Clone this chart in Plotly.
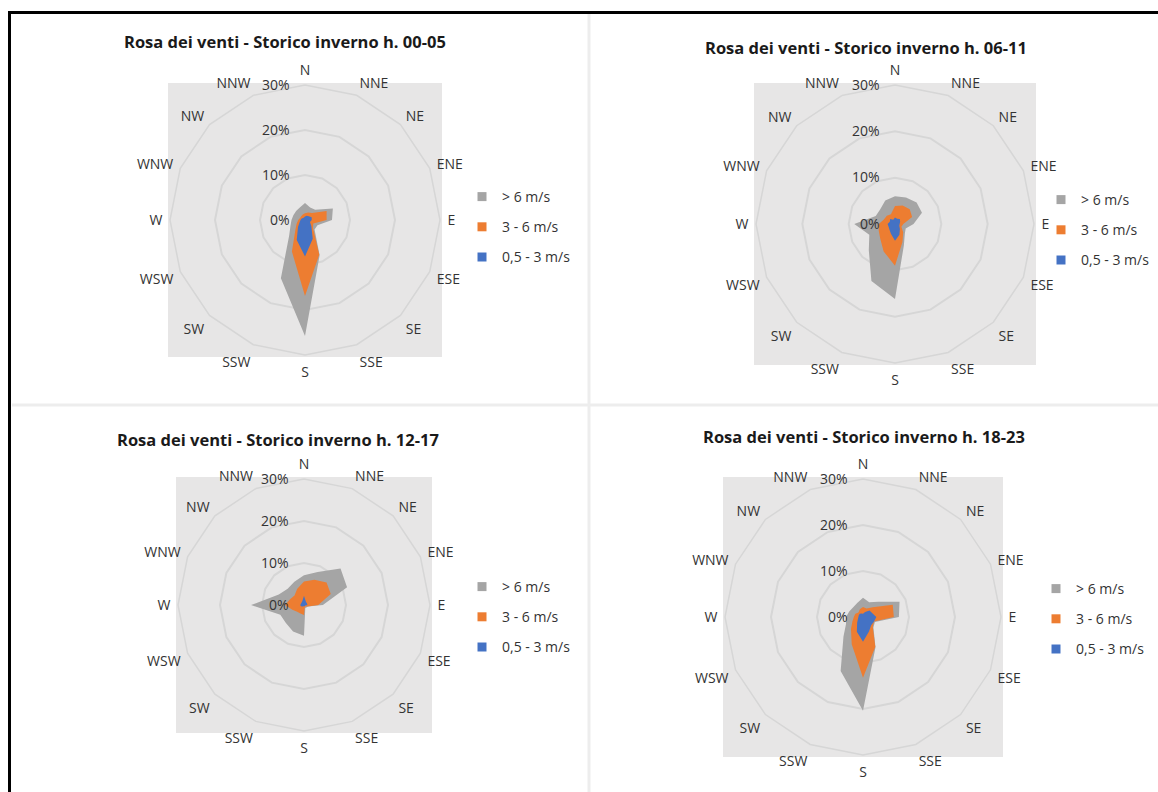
import plotly.graph_objects as go

W, H = 1158, 792

# Wind directions (16-point compass), clockwise from north
DIRS = ["N", "NNE", "NE", "ENE", "E", "ESE", "SE", "SSE",
        "S", "SSW", "SW", "WSW", "W", "WNW", "NW", "NNW"]

SERIES = ["> 6 m/s", "3 - 6 m/s", "0,5 - 3 m/s"]
COLORS = ["#A5A5A5", "#ED7D31", "#4472C4"]

TITLES = [
    "Rosa dei venti - Storico inverno h. 00-05",
    "Rosa dei venti - Storico inverno h. 06-11",
    "Rosa dei venti - Storico inverno h. 12-17",
    "Rosa dei venti - Storico inverno h. 18-23",
]

RADIAL_TICKS = [0, 10, 20, 30]
RADIAL_LABELS = ["0%", "10%", "20%", "30%"]

# Frequencies (%) per direction, h. 00-05
H0005_GT6 = [3.8, 3.0, 3.2, 6.7, 6.0, 3.0, 3.0, 8.5, 25.8, 14.0, 5.0, 3.5, 3.0, 2.8, 2.8, 3.0]
H0005_3_6 = [1.5, 1.8, 2.2, 5.2, 4.8, 2.0, 2.5, 8.3, 16.9, 7.6, 3.0, 2.0, 1.5, 1.2, 1.2, 1.3]
H0005_05_3 = [0.8, 1.0, 1.2, 1.6, 1.5, 1.2, 2.0, 4.5, 8.1, 4.8, 2.2, 1.3, 1.0, 0.8, 0.6, 0.6]

# h. 06-11
H0611_GT6 = [6.0, 6.2, 6.6, 6.3, 4.0, 2.5, 3.0, 5.0, 16.2, 13.3, 8.0, 6.0, 8.8, 4.5, 4.5, 5.5]
H0611_3_6 = [3.9, 4.3, 4.5, 4.0, 1.8, 1.5, 2.5, 4.2, 9.0, 6.4, 4.5, 3.8, 3.5, 2.6, 2.5, 2.3]
H0611_05_3 = [1.4, 1.2, 1.5, 1.2, 1.0, 1.0, 1.5, 2.5, 3.6, 2.3, 1.7, 1.5, 1.6, 1.2, 1.5, 1.0]

# h. 12-17
H1217_GT6 = [7.1, 8.5, 12.3, 11.1, 4.5, 1.0, 0.8, 0.8, 7.3, 6.8, 6.1, 6.1, 12.6, 6.5, 5.5, 6.0]
H1217_3_6 = [5.6, 6.5, 7.6, 6.9, 3.4, 1.0, 0.5, 0.5, 2.4, 2.2, 2.3, 3.0, 4.5, 3.6, 3.2, 4.2]
H1217_05_3 = [2.2, 1.0, 0.8, 0.8, 0.8, 0.3, 0.3, 0.3, 0.3, 0.3, 0.5, 0.8, 0.9, 0.8, 0.8, 1.0]

# h. 18-23
H1823_GT6 = [4.2, 3.5, 4.7, 8.6, 7.8, 2.8, 3.2, 7.1, 20.4, 12.7, 6.0, 4.0, 3.7, 3.2, 3.0, 3.3]
H1823_3_6 = [2.2, 2.0, 3.0, 7.0, 6.7, 2.6, 3.0, 7.0, 13.2, 6.4, 3.7, 2.5, 2.0, 1.8, 1.4, 1.8]
H1823_05_3 = [0.7, 1.2, 2.0, 2.2, 2.9, 2.6, 2.5, 3.4, 5.4, 3.5, 1.8, 1.2, 1.0, 1.0, 1.0, 0.8]

PANEL_DATA = [
    [H0005_GT6, H0005_3_6, H0005_05_3],
    [H0611_GT6, H0611_3_6, H0611_05_3],
    [H1217_GT6, H1217_3_6, H1217_05_3],
    [H1823_GT6, H1823_3_6, H1823_05_3],
]

# Layout of each panel in pixels: polar centre, radius, title centre, legend text start / middle row
PANELS = [
    dict(cx=305, cy=220, r=135, tx=285, ty=42, lx=498, ly=227),
    dict(cx=895, cy=224, r=139, tx=866, ty=48, lx=1077, ly=230),
    dict(cx=304, cy=605, r=126, tx=278, ty=439, lx=498, ly=617),
    dict(cx=863, cy=617, r=138, tx=864, ty=436, lx=1072, ly=619),
]

FONT = "Open Sans"
TXT = "#333333"
GRID = "#D6D6D6"
PLOT_BG = "#E7E6E6"
LABEL_SIZE = 14


def px(x):
    return x / W


def py(y):
    return 1 - y / H


fig = go.Figure()
layout = dict(
    width=W, height=H,
    margin=dict(l=0, r=0, t=0, b=0),
    paper_bgcolor="white",
    font=dict(family=FONT, size=LABEL_SIZE, color=TXT),
    shapes=[], annotations=[],
)

for i, (p, data, title) in enumerate(zip(PANELS, PANEL_DATA, TITLES)):
    k = "" if i == 0 else str(i + 1)
    polar_name = "polar" + k
    legend_name = "legend" + k
    cx, cy, r = p["cx"], p["cy"], p["r"]

    layout[polar_name] = dict(
        domain=dict(x=[px(cx - r), px(cx + r)], y=[py(cy + r), py(cy - r)]),
        bgcolor=PLOT_BG,
        gridshape="linear",
        angularaxis=dict(
            type="category", categoryarray=DIRS, rotation=90, direction="clockwise",
            showgrid=False, showline=True, linecolor=GRID, linewidth=1.5,
            ticks="outside", ticklen=4, tickcolor="rgba(0,0,0,0)",
            tickfont=dict(family=FONT, size=LABEL_SIZE, color=TXT),
        ),
        radialaxis=dict(
            range=[0, 30], tickmode="array", tickvals=RADIAL_TICKS, ticktext=RADIAL_LABELS,
            angle=90, tickangle=90, side="counterclockwise", showline=False,
            gridcolor=GRID, gridwidth=1.5,
            ticks="outside", ticklen=10, tickcolor="rgba(0,0,0,0)",
            tickfont=dict(family=FONT, size=LABEL_SIZE, color=TXT),
        ),
    )

    layout[legend_name] = dict(
        x=px(p["lx"] - 36), y=py(p["ly"]), xanchor="left", yanchor="middle",
        bgcolor="rgba(0,0,0,0)", borderwidth=0, tracegroupgap=9,
        font=dict(family=FONT, size=LABEL_SIZE, color=TXT),
    )

    for name, color, vals in zip(SERIES, COLORS, data):
        group = f"{polar_name}-{name}"
        fig.add_trace(go.Scatterpolar(
            r=vals + vals[:1], theta=DIRS + DIRS[:1],
            mode="none", fill="toself", fillcolor=color,
            name=name, legendgroup=group, showlegend=False,
            subplot=polar_name, hoverinfo="skip",
        ))
        fig.add_trace(go.Scatterpolar(
            r=[None], theta=[None], mode="markers",
            marker=dict(symbol="square", size=9, color=color),
            name=name, legendgroup=group, legend=legend_name,
            subplot=polar_name,
        ))

    # grey plot-area square behind each rose
    layout["shapes"].append(dict(
        type="rect", xref="paper", yref="paper", layer="below",
        x0=px(cx - r - 2), x1=px(cx + r + 2), y0=py(cy + r + 2), y1=py(cy - r - 2),
        fillcolor=PLOT_BG, line=dict(width=0),
    ))

    layout["annotations"].append(dict(
        text=f"<b>{title}</b>", x=px(p["tx"]), y=py(p["ty"]),
        xref="paper", yref="paper", xanchor="center", yanchor="middle",
        showarrow=False, font=dict(family=FONT, size=16.5, color="#1A1A1A"),
    ))

# chart-area separators and outer frame
SEP = "#EDEDED"
layout["shapes"] += [
    dict(type="line", xref="paper", yref="paper", x0=px(589), x1=px(589), y0=py(14), y1=0,
         line=dict(color=SEP, width=3)),
    dict(type="line", xref="paper", yref="paper", x0=px(12), x1=1, y0=py(405), y1=py(405),
         line=dict(color=SEP, width=3)),
    dict(type="line", xref="paper", yref="paper", x0=px(9.5), x1=px(9.5), y0=py(11), y1=0,
         line=dict(color="black", width=3)),
    dict(type="line", xref="paper", yref="paper", x0=px(8), x1=1, y0=py(12.5), y1=py(12.5),
         line=dict(color="black", width=3)),
]

fig.update_layout(**layout)
fig.write_html("out.html")
